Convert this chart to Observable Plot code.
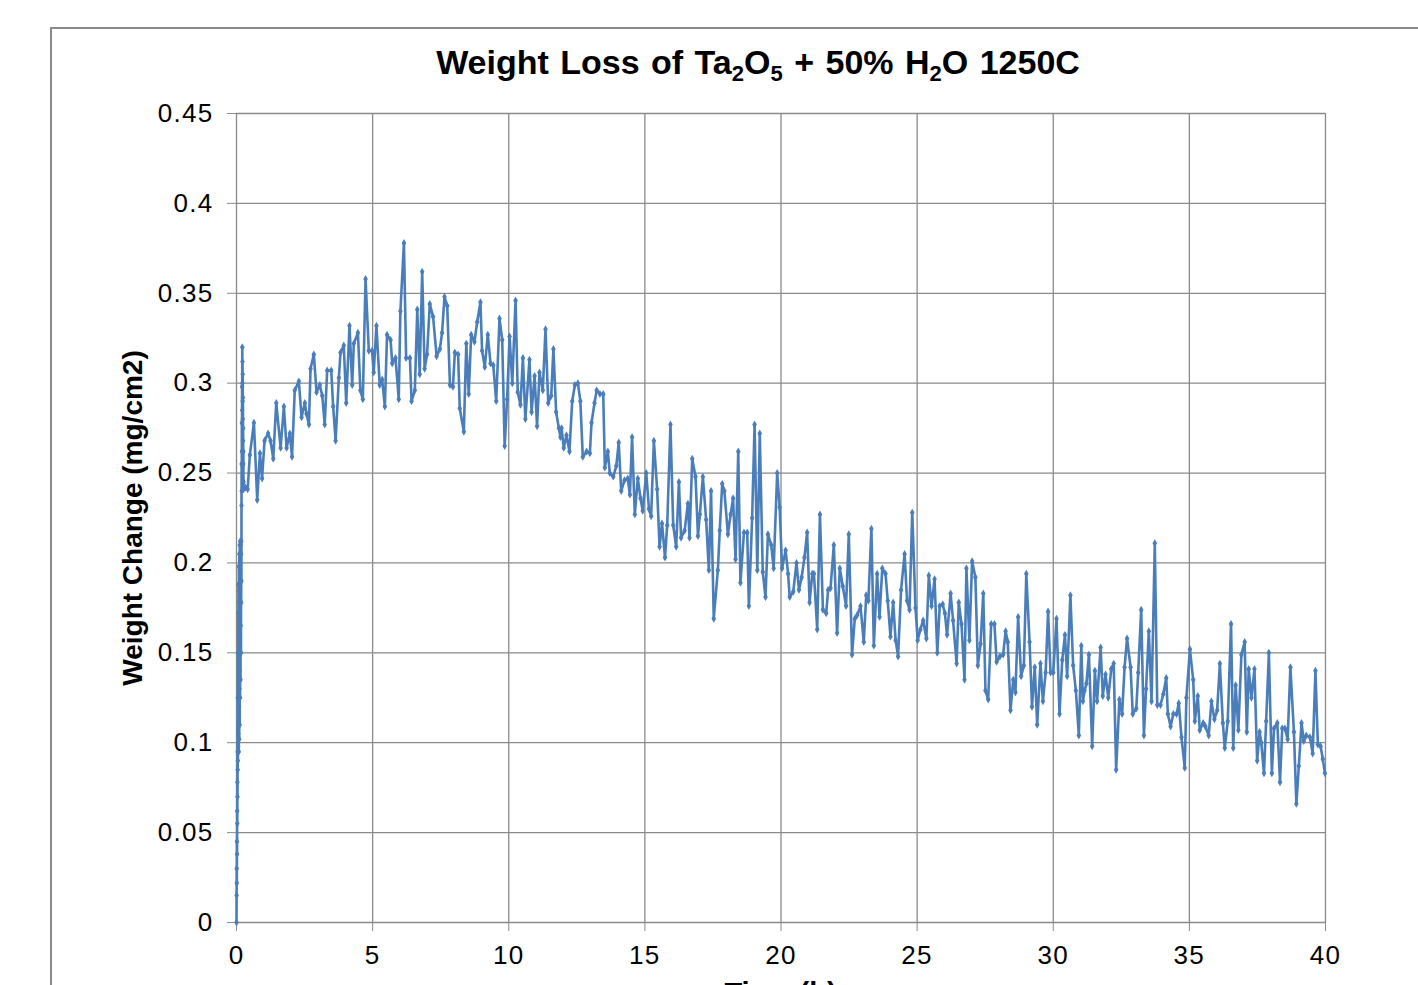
<!DOCTYPE html>
<html>
<head>
<meta charset="utf-8">
<script src="https://cdn.jsdelivr.net/npm/d3@7"></script>
<script src="https://cdn.jsdelivr.net/npm/@observablehq/plot@0.6"></script>
<style>
  html, body { margin: 0; padding: 0; background: #fff; overflow: hidden; }
  #page { position: relative; width: 1418px; height: 985px; overflow: hidden; }
  #frame { position: absolute; left: 50px; top: 27px; width: 1500px; height: 1100px;
           border: 2px solid #8a8a8a; pointer-events: none; }
  #title { position: absolute; left: 0; width: 1516px; top: 45px; text-align: center;
           font-family: "Liberation Sans", Arial, sans-serif; font-weight: bold; font-size: 34px;
           line-height: 34px; word-spacing: 2px; color: #000; white-space: nowrap; }
  #title sub { font-size: 22px; vertical-align: -7px; line-height: 0; }
  #xlabel { position: absolute; left: 0; width: 1561px; top: 979px; text-align: center;
           font-family: "Liberation Sans", Arial, sans-serif; font-weight: bold; font-size: 29px;
           line-height: 29px; color: #000; white-space: nowrap; }
  #chart svg text { fill: #000; }
  #chart svg g[aria-label="x-axis tick label"] text,
  #chart svg g[aria-label="y-axis tick label"] text { letter-spacing: 1.3px; }
</style>
</head>
<body>
<div id="page">
  <div id="chart"></div>
  <div id="frame"></div>
  <div id="title">Weight Loss of Ta<sub>2</sub>O<sub>5</sub> + 50% H<sub>2</sub>O 1250C</div>
  <div id="xlabel">Time (h)</div>
</div>
<script>
// ---- Data ----
const xTicks = [0, 5, 10, 15, 20, 25, 30, 35, 40];
const yTicks = [0, 0.05, 0.1, 0.15, 0.2, 0.25, 0.3, 0.35, 0.4, 0.45];
const yTickLabels = ["0", "0.05", "0.1", "0.15", "0.2", "0.25", "0.3", "0.35", "0.4", "0.45"];
const yLabel = "Weight Change (mg/cm2)";

// Initial dense, noisy ramp (first ~0.26 h)
const rampTime = [0.000,0.004,0.008,0.012,0.016,0.020,0.024,0.028,0.032,0.036,0.040,0.044,0.048,0.052,0.056,0.060,0.064,0.068,0.072,0.076,0.080,0.084,0.088,0.092,0.096,0.100,0.104,0.108,0.112,0.116,0.120,0.124,0.128,0.132,0.136,0.140,0.144,0.148,0.152,0.156,0.160,0.164,0.168,0.172,0.176,0.180,0.184,0.188,0.192,0.196,0.200,0.204,0.208,0.212,0.216,0.220,0.224,0.228,0.232,0.236,0.240,0.244,0.248,0.252,0.256,0.260];
const rampWeight = [0.000,0.015,0.030,0.022,0.045,0.038,0.062,0.055,0.078,0.070,0.095,0.085,0.125,0.090,0.150,0.098,0.172,0.105,0.188,0.112,0.160,0.095,0.198,0.120,0.178,0.102,0.205,0.130,0.185,0.110,0.210,0.140,0.195,0.125,0.212,0.150,0.200,0.135,0.210,0.165,0.212,0.150,0.205,0.178,0.212,0.190,0.232,0.255,0.240,0.278,0.262,0.298,0.285,0.320,0.300,0.312,0.290,0.305,0.280,0.292,0.268,0.275,0.255,0.262,0.245,0.241];

// Main series
const mainTime = [0.33,0.41,0.49,0.64,0.76,0.86,0.94,1.03,1.16,1.25,1.35,1.46,1.62,1.74,1.84,1.96,2.04,2.14,2.29,2.39,2.51,2.57,2.66,2.72,2.84,2.94,3.06,3.15,3.24,3.33,3.48,3.55,3.64,3.76,3.82,3.94,4.03,4.15,4.25,4.31,4.46,4.55,4.64,4.74,4.86,4.98,5.04,5.14,5.26,5.35,5.45,5.53,5.66,5.72,5.84,5.96,6.02,6.15,6.23,6.37,6.43,6.55,6.64,6.73,6.82,6.91,7.00,7.10,7.22,7.35,7.47,7.55,7.64,7.74,7.84,7.95,8.02,8.14,8.20,8.35,8.44,8.53,8.62,8.74,8.84,8.96,
9.02,9.12,9.23,9.33,9.43,9.54,9.66,9.76,9.85,9.94,10.03,10.13,10.25,10.33,10.43,10.52,10.61,10.76,10.84,10.95,11.04,11.13,11.25,11.35,11.45,11.56,11.64,11.74,11.84,11.90,11.94,12.02,12.12,12.23,12.33,12.43,12.54,12.63,12.72,12.86,12.98,13.04,13.15,13.23,13.35,13.47,
13.53,13.64,13.71,13.84,13.95,14.04,14.13,14.25,14.37,14.45,14.53,14.63,14.74,14.84,14.92,15.05,15.15,15.23,15.33,15.45,15.54,15.63,15.74,15.82,15.94,16.04,16.15,16.25,16.33,16.46,16.58,16.64,16.74,16.86,16.95,17.02,17.13,17.25,17.35,17.43,17.53,17.68,17.75,17.84,17.92,18.05,18.15,18.24,18.33,18.43,18.51,18.64,18.76,18.82,18.94,19.03,19.13,19.22,19.33,19.43,19.52,19.64,19.73,19.86,19.95,
20.04,20.17,20.26,20.32,20.45,20.57,20.66,20.76,20.86,20.96,21.05,21.15,21.21,21.33,21.43,21.54,21.66,21.73,21.82,21.94,22.06,22.16,22.27,22.39,22.49,22.61,22.71,22.80,22.92,23.04,23.13,23.21,23.32,23.41,23.53,23.62,23.72,23.84,23.92,24.02,24.12,24.21,24.30,
24.41,24.54,24.63,24.72,24.82,24.94,25.02,25.12,25.22,25.34,25.43,25.53,25.64,25.74,25.83,25.94,26.02,26.10,26.23,26.32,26.45,26.53,26.63,26.74,26.81,26.92,27.02,27.14,27.23,27.33,27.43,27.51,27.61,27.72,27.84,27.92,28.04,28.16,28.25,28.33,28.43,28.53,28.61,28.71,28.82,28.92,29.01,29.13,29.22,29.32,29.41,29.53,29.62,29.72,29.81,29.90,30.00,30.12,30.23,30.33,30.43,30.51,30.63,30.73,30.83,30.94,31.03,
31.09,31.15,31.22,31.31,31.43,31.53,31.61,31.74,31.82,31.92,32.02,32.13,32.22,32.31,32.43,32.53,32.62,32.71,32.84,32.92,33.05,33.12,33.23,33.33,33.41,33.51,33.61,33.73,33.82,33.94,34.04,34.15,34.21,34.31,34.41,34.53,34.61,34.71,34.83,34.89,35.02,35.14,35.20,35.31,35.38,35.51,35.59,35.71,35.81,35.92,36.02,36.12,36.23,36.30,36.41,36.53,36.61,36.70,36.80,36.91,37.03,37.11,37.18,37.28,37.39,37.49,37.58,37.64,37.74,37.82,37.92,38.03,38.11,38.23,38.33,38.41,38.51,38.61,38.71,38.84,38.93,39.02,39.12,39.20,39.29,39.43,39.53,39.63,39.72,39.82,39.90,39.98];

const mainWeight = [0.242,0.241,0.260,0.278,0.235,0.261,0.247,0.268,0.272,0.268,0.258,0.289,0.264,0.287,0.264,0.272,0.259,0.296,0.301,0.281,0.289,0.283,0.277,0.308,0.316,0.295,0.299,0.293,0.277,0.307,0.307,0.287,0.268,0.303,0.317,0.321,0.289,0.332,0.299,0.322,0.328,0.296,0.291,0.358,0.318,0.318,0.306,0.332,0.299,0.302,0.287,0.327,0.324,0.311,0.314,0.291,0.340,0.378,0.314,0.314,0.290,0.296,0.341,0.305,0.362,0.308,0.316,0.344,0.337,0.315,0.319,0.328,0.348,0.343,0.299,0.298,0.317,0.316,0.286,0.273,0.322,0.294,0.327,0.323,0.334,0.345,
0.318,0.309,0.327,0.311,0.310,0.290,0.336,0.324,0.265,0.291,0.326,0.300,0.346,0.295,0.288,0.314,0.280,0.313,0.284,0.304,0.276,0.306,0.296,0.330,0.289,0.293,0.319,0.284,0.275,0.270,0.275,0.264,0.271,0.262,0.290,0.299,0.300,0.290,0.259,0.262,0.261,0.278,0.289,0.296,0.294,0.294,
0.253,0.262,0.250,0.248,0.254,0.267,0.240,0.246,0.247,0.238,0.270,0.227,0.247,0.236,0.229,0.250,0.230,0.226,0.268,0.241,0.209,0.222,0.203,0.221,0.277,0.221,0.209,0.245,0.214,0.218,0.233,0.214,0.258,0.248,0.215,0.227,0.248,0.224,0.196,0.240,0.169,0.196,0.218,0.244,0.240,0.216,0.227,0.236,0.202,0.262,0.189,0.217,0.217,0.176,0.225,0.277,0.196,0.272,0.195,0.181,0.216,0.210,0.197,0.250,0.231,
0.197,0.207,0.194,0.181,0.184,0.200,0.185,0.192,0.203,0.217,0.178,0.194,0.194,0.163,0.227,0.174,0.172,0.185,0.186,0.210,0.161,0.197,0.187,0.176,0.216,0.149,0.169,0.171,0.176,0.156,0.182,0.179,0.219,0.154,0.194,0.170,0.197,0.194,0.179,0.159,0.178,0.157,0.148,
0.185,0.205,0.179,0.174,0.228,0.175,0.157,0.163,0.168,0.158,0.193,0.176,0.191,0.150,0.176,0.177,0.172,0.160,0.183,0.168,0.144,0.178,0.166,0.135,0.197,0.157,0.201,0.192,0.143,0.155,0.183,0.129,0.124,0.166,0.166,0.145,0.148,0.149,0.162,0.156,0.118,0.135,0.128,0.170,0.137,0.143,0.194,0.156,0.120,0.142,0.110,0.144,0.123,0.139,0.173,0.139,0.139,0.169,0.116,0.146,0.160,0.137,0.182,0.143,0.129,0.104,0.154,
0.123,0.129,0.133,0.149,0.098,0.140,0.123,0.153,0.126,0.138,0.125,0.141,0.144,0.085,0.124,0.116,0.142,0.158,0.142,0.116,0.119,0.139,0.174,0.104,0.130,0.162,0.123,0.211,0.121,0.121,0.127,0.136,0.116,0.109,0.116,0.116,0.122,0.103,0.086,0.125,0.152,0.135,0.112,0.126,0.107,0.111,0.109,0.104,0.123,0.113,0.118,0.144,0.111,0.097,0.112,0.166,0.097,0.132,0.107,0.149,0.156,0.106,0.141,0.125,0.141,0.090,0.106,0.100,0.083,0.112,0.150,0.083,0.108,0.111,0.078,0.108,0.108,0.102,0.142,0.106,0.066,0.087,0.111,0.101,0.104,0.103,0.094,0.140,0.099,0.098,0.091,0.083];

const lineColor = "#4a7ebb";
const gridColor = "#8a8a8a";

const times = rampTime.concat(mainTime);
const weights = rampWeight.concat(mainWeight);
const data = times.map((t, i) => ({t, w: weights[i]}));

const chart = Plot.plot({
  width: 1418,
  height: 985,
  marginLeft: 236,
  marginRight: 93,
  marginTop: 113,
  marginBottom: 63,
  style: {
    fontFamily: "'Liberation Sans', Arial, sans-serif",
    fontSize: "26px",
    color: gridColor,
    background: "transparent",
    overflow: "visible"
  },
  x: {domain: [0, 40], ticks: xTicks, tickSize: 9, tickPadding: 14, label: null, tickFormat: d => String(d)},
  y: {domain: [0, 0.45], ticks: yTicks, tickSize: 9, tickPadding: 14, label: null,
      tickFormat: d => yTickLabels[yTicks.findIndex(v => Math.abs(v - d) < 1e-9)]},
  marks: [
    Plot.ruleX(xTicks, {stroke: gridColor, strokeWidth: 1.3}),
    Plot.ruleY(yTicks, {stroke: gridColor, strokeWidth: 1.3}),
    Plot.line(data, {x: "t", y: "w", stroke: lineColor, strokeWidth: 2.6, curve: "linear"}),
    Plot.dot(data, {x: "t", y: "w", symbol: "diamond", r: 2.4, fill: lineColor, stroke: "none"}),
    Plot.text([yLabel], {frameAnchor: "left", textAnchor: "middle", dx: -103, rotate: -90, fontSize: 28, fontWeight: "bold", fill: "#000"})
  ]
});
document.getElementById("chart").appendChild(chart);
</script>
</body>
</html>
